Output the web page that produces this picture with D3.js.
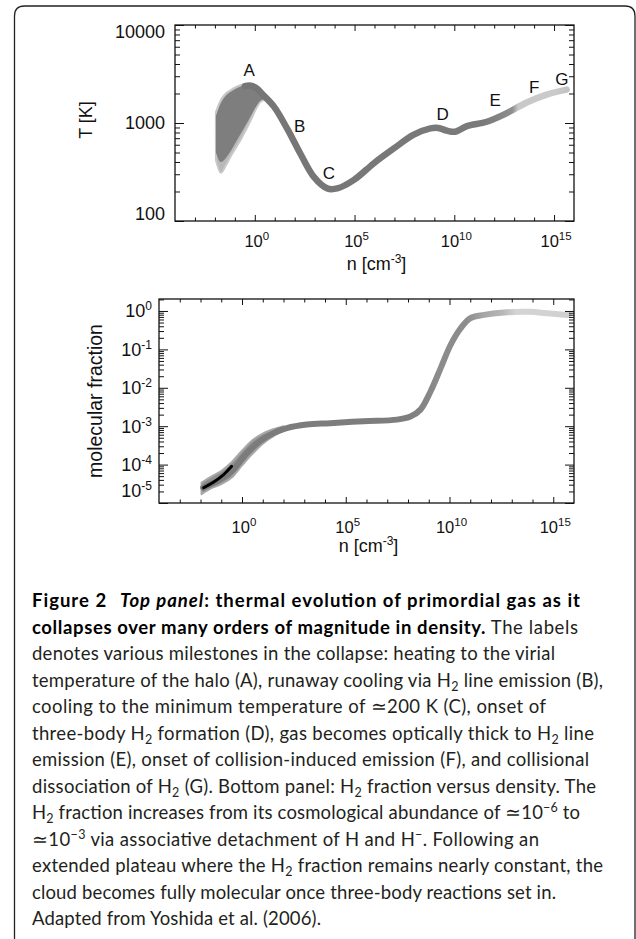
<!DOCTYPE html>
<html><head><meta charset="utf-8">
<script src="https://cdn.jsdelivr.net/npm/d3@7"></script>
<style>body{margin:0;background:#fff}svg{display:block}</style>
</head><body>
<svg id="c" width="636" height="939"></svg>
<script>
// ---------------- DATA ----------------
// Top panel: main thermal track (density n [cm^-3] as log10, temperature K)
const tempLogN = [-0.5, -0.2, 0.1, 0.4, 0.97, 1.63, 2.3, 2.97, 3.63, 4.13, 4.97, 5.97, 6.97, 7.97, 8.8, 9.2, 9.63, 10.05, 10.63, 11.63, 12.63, 13.63, 14.63, 15.63];
const tempK    = [2380, 2400, 2250, 1950, 1460, 870, 480, 280, 215, 215, 263, 389, 550, 759, 880, 890, 835, 815, 930, 1030, 1260, 1620, 1950, 2190];
// Top panel: spread of many trajectories at low density (outer and inner envelopes)
const fanLogN      = [-1.95, -1.7, -1.45, -1.2, -0.95, -0.7, -0.45, -0.2, 0.05, 0.3, 0.55];
const fanOuterHigh = [1290, 1720, 2000, 2170, 2320, 2440, 2510, 2450, 2320, 2140, 1900];
const fanOuterLow  = [420, 310, 370, 460, 560, 680, 850, 1070, 1380, 1660, 1740];
const fanInnerHigh = [1180, 1600, 1900, 2080, 2230, 2360, 2430, 2400, 2270, 2100, 1880];
const fanInnerLow  = [500, 400, 440, 520, 640, 780, 960, 1180, 1460, 1700, 1760];
// Milestone labels
const milestoneNames = ["A", "B", "C", "D", "E", "F", "G"];
const milestoneLogN  = [-0.28, 2.25, 3.72, 9.42, 12.05, 14.0, 15.39];
const milestoneK     = [3470, 933, 309, 1230, 1700, 2340, 2820];

// Bottom panel: molecular fraction track
const fracLogN = [-1.87, -1.06, -0.42, 0.23, 0.87, 1.51, 2.16, 3.12, 4.25, 5.86, 7.47, 8.12, 8.6, 9.08, 9.57, 10.05, 10.53, 11.01, 11.66, 12.79, 13.9, 14.7, 15.7];
const fracVal  = [2.5e-5, 4.1e-5, 7.4e-5, 2.0e-4, 4.1e-4, 6.6e-4, 8.9e-4, 1.1e-3, 1.2e-3, 1.35e-3, 1.48e-3, 1.78e-3, 2.7e-3, 7.9e-3, 3.2e-2, 0.13, 0.35, 0.65, 0.79, 0.93, 0.95, 0.87, 0.79];
// Bottom panel: low-density spread envelope and dark core
const spreadLogN = [-1.95, -1.5, -1.0, -0.5, 0.0, 0.5, 1.0, 1.5, 2.0];
const spreadHigh = [3.4e-5, 4.8e-5, 6.8e-5, 1.15e-4, 2.3e-4, 4.3e-4, 6.4e-4, 8.3e-4, 1.0e-3];
const spreadLow  = [1.7e-5, 2.4e-5, 3.1e-5, 4.6e-5, 9.5e-5, 1.9e-4, 3.5e-4, 5.4e-4, 7.4e-4];
const coreLogN = [-1.85, -1.4, -0.9, -0.5];
const coreVal  = [2.5e-5, 3.4e-5, 5.4e-5, 9.0e-5];

// Ticks
const xMajorExp = [0, 5, 10, 15];
const xMinorExp = d3.range(-3, 16);
const tempMajor = [100, 1000, 10000];
const tempMajorLabels = ["100", "1000", "10000"];
const fracMajorExp = [0, -1, -2, -3, -4, -5];

// Caption
const captionLines = [
 [["b","Figure 2"],["bi","Top panel"],["b",": thermal evolution of primordial gas as it"]],
 [["b","collapses over many orders of magnitude in density."],["r"," The labels"]],
 [["r","denotes various milestones in the collapse: heating to the virial"]],
 [["r","temperature of the halo (A), runaway cooling via H"],["sub","2"],["r"," line emission (B),"]],
 [["r","cooling to the minimum temperature of \u2243200 K (C), onset of"]],
 [["r","three-body H"],["sub","2"],["r"," formation (D), gas becomes optically thick to H"],["sub","2"],["r"," line"]],
 [["r","emission (E), onset of collision-induced emission (F), and collisional"]],
 [["r","dissociation of H"],["sub","2"],["r"," (G). Bottom panel: H"],["sub","2"],["r"," fraction versus density. The"]],
 [["r","H"],["sub","2"],["r"," fraction increases from its cosmological abundance of \u224310"],["sup","\u22126"],["r"," to"]],
 [["r","\u224310"],["sup","\u22123"],["r"," via associative detachment of H and H"],["sup","\u2212"],["r",". Following an"]],
 [["r","extended plateau where the H"],["sub","2"],["r"," fraction remains nearly constant, the"]],
 [["r","cloud becomes fully molecular once three-body reactions set in."]],
 [["r","Adapted from Yoshida et al. (2006)."]]
];
// right end of each caption line in the reference
const captionLineEnd = [580, 578, 555, 603, 546, 594, 589, 596, 580, 539, 603, 556, 321];

// ---------------- DRAW ----------------
const svg = d3.select("#c");
const FONT = "'Liberation Sans', Arial, Helvetica, sans-serif";
const CAPFONT = "Lato, 'Open Sans', sans-serif";

svg.append("path")
  .attr("d", "M14.5,939 L14.5,16 Q14.5,6 24.5,6 L625,6 Q635,6 635,16 L635,939")
  .attr("fill", "none").attr("stroke", "#222").attr("stroke-width", 1.3);

const defs = svg.append("defs");

function panel(opt) {
  const g = svg.append("g");
  const x = d3.scaleLog().domain([1e-4, 1e16]).range([opt.left, opt.right]);
  const y = d3.scaleLog().domain(opt.ydom).range([opt.bottom, opt.top]);
  const clipId = opt.id + "clip";
  defs.append("clipPath").attr("id", clipId).append("rect")
    .attr("x", opt.left).attr("y", opt.top).attr("width", opt.right - opt.left).attr("height", opt.bottom - opt.top);
  const plot = g.append("g").attr("clip-path", `url(#${clipId})`);

  const xMaj = xMajorExp.map(e => Math.pow(10, e));
  const xMin = xMinorExp.filter(e => !xMajorExp.includes(e)).map(e => Math.pow(10, e));
  const tk = (axis, sel, vals, len) => {
    const a = g.append("g").attr("transform", sel)
      .call(axis.tickValues(vals).tickSizeInner(-len).tickSizeOuter(0).tickFormat(""));
    a.select(".domain").remove();
    a.selectAll("line").attr("stroke", "#111").attr("stroke-width", 1);
  };
  tk(d3.axisBottom(x), `translate(0,${opt.bottom})`, xMaj, 6);
  tk(d3.axisBottom(x), `translate(0,${opt.bottom})`, xMin, 3.5);
  tk(d3.axisTop(x), `translate(0,${opt.top})`, xMaj, 6);
  tk(d3.axisTop(x), `translate(0,${opt.top})`, xMin, 3.5);
  tk(d3.axisLeft(y), `translate(${opt.left},0)`, opt.yMajor, 9);
  tk(d3.axisLeft(y), `translate(${opt.left},0)`, opt.yMinor, 5);
  tk(d3.axisRight(y), `translate(${opt.right},0)`, opt.yMajor, 9);
  tk(d3.axisRight(y), `translate(${opt.right},0)`, opt.yMinor, 5);

  g.append("rect").attr("x", opt.left).attr("y", opt.top)
    .attr("width", opt.right - opt.left).attr("height", opt.bottom - opt.top)
    .attr("fill", "none").attr("stroke", "#111").attr("stroke-width", 1.3);

  xMajorExp.forEach(e => {
    const t = g.append("text").attr("x", x(Math.pow(10, e)) + 2).attr("y", opt.xLabBase)
      .attr("text-anchor", "middle").attr("font-family", FONT).attr("font-size", 16.5).attr("fill", "#111");
    t.append("tspan").text("10");
    t.append("tspan").attr("dy", -7).attr("font-size", 11.5).text(String(e));
  });
  const xt = g.append("text").attr("x", (opt.left + opt.right) / 2 + 2).attr("y", opt.xTitleBase)
    .attr("text-anchor", "middle").attr("font-family", FONT).attr("font-size", 18).attr("fill", "#111");
  xt.append("tspan").text("n [cm");
  xt.append("tspan").attr("dy", -7).attr("font-size", 12).text("-3");
  xt.append("tspan").attr("dy", 7).text("]");
  g.append("text").attr("transform", `translate(${opt.yTitleX},${opt.yTitleY}) rotate(-90)`)
    .attr("text-anchor", "middle").attr("font-family", FONT).attr("font-size", opt.yTitleSize).attr("fill", "#111")
    .text(opt.yTitle);
  return {g, plot, x, y};
}

// ---- Top panel ----
const P1 = panel({id: "p1", left: 175, right: 574, top: 25, bottom: 221, ydom: [100, 10000],
  yMajor: tempMajor,
  yMinor: [2,3,4,5,6,7,8,9].map(v => v * 100).concat([2,3,4,5,6,7,8,9].map(v => v * 1000)),
  xLabBase: 247, xTitleBase: 270, yTitle: "T [K]", yTitleX: 92, yTitleY: 120, yTitleSize: 18});
tempMajor.forEach((v, i) => {
  const shift = i === 0 ? -7 : (i === tempMajor.length - 1 ? 7 : 0);
  P1.g.append("text").attr("x", 165).attr("y", P1.y(v) + 6.4 + shift)
    .attr("text-anchor", "end").attr("font-family", FONT).attr("font-size", 18).attr("fill", "#111")
    .text(tempMajorLabels[i]);
});

const areaOuter = d3.area().curve(d3.curveMonotoneX)
  .x((d, i) => P1.x(Math.pow(10, fanLogN[i])))
  .y0((d, i) => P1.y(fanOuterLow[i])).y1((d, i) => P1.y(fanOuterHigh[i]));
const areaInner = d3.area().curve(d3.curveMonotoneX)
  .x((d, i) => P1.x(Math.pow(10, fanLogN[i])))
  .y0((d, i) => P1.y(fanInnerLow[i])).y1((d, i) => P1.y(fanInnerHigh[i]));
P1.plot.append("path").attr("d", areaOuter(fanLogN)).attr("fill", "#b8b8b8")
  .attr("stroke", "#c8c8c8").attr("stroke-width", 2).attr("stroke-linejoin", "round");
P1.plot.append("path").attr("d", areaInner(fanLogN)).attr("fill", "#7e7e7e");

const g1 = defs.append("linearGradient").attr("id", "gt").attr("gradientUnits", "userSpaceOnUse")
  .attr("x1", P1.x(1e-4)).attr("x2", P1.x(1e16)).attr("y1", 0).attr("y2", 0);
const xf1 = v => (P1.x(Math.pow(10, v)) - P1.x(1e-4)) / (P1.x(1e16) - P1.x(1e-4));
[[-4, "#747474"], [11.5, "#7a7a7a"], [12.9, "#8e8e8e"], [13.2, "#c8c8c8"], [15.0, "#cacaca"], [16, "#c0c0c0"]]
  .forEach(s => g1.append("stop").attr("offset", xf1(s[0])).attr("stop-color", s[1]));

const lineT = d3.line().curve(d3.curveCatmullRom.alpha(0.5))
  .x((d, i) => P1.x(Math.pow(10, tempLogN[i]))).y((d, i) => P1.y(tempK[i]));
P1.plot.append("path").attr("d", lineT(tempLogN)).attr("fill", "none")
  .attr("stroke", "url(#gt)").attr("stroke-width", 6.5).attr("stroke-linecap", "round").attr("stroke-linejoin", "round");

milestoneNames.forEach((n, i) => {
  P1.g.append("text").attr("x", P1.x(Math.pow(10, milestoneLogN[i]))).attr("y", P1.y(milestoneK[i]) + 6)
    .attr("text-anchor", "middle").attr("font-family", FONT).attr("font-size", 17).attr("fill", "#111").text(n);
});

// ---- Bottom panel ----
const fracMinor = [];
for (let e = -5; e < 1; e++) for (let m = 2; m <= 9; m++) { const v = m * Math.pow(10, e); if (v <= 2.05) fracMinor.push(v); }
const P2 = panel({id: "p2", left: 159, right: 574, top: 299, bottom: 503, ydom: [1e-5, 2.05],
  yMajor: fracMajorExp.map(e => Math.pow(10, e)), yMinor: fracMinor,
  xLabBase: 533, xTitleBase: 552, yTitle: "molecular fraction", yTitleX: 102, yTitleY: 401, yTitleSize: 19.5});
fracMajorExp.forEach(e => {
  const shift = e === -5 ? -12 : 0;
  const t = P2.g.append("text").attr("x", 152).attr("y", P2.y(Math.pow(10, e)) + 6.4 + shift)
    .attr("text-anchor", "end").attr("font-family", FONT).attr("font-size", 18).attr("fill", "#111");
  t.append("tspan").text("10");
  t.append("tspan").attr("dy", -7).attr("font-size", 12).text(String(e));
});

const g2 = defs.append("linearGradient").attr("id", "gb").attr("gradientUnits", "userSpaceOnUse")
  .attr("x1", P2.x(1e-4)).attr("x2", P2.x(1e16)).attr("y1", 0).attr("y2", 0);
const xf2 = v => (P2.x(Math.pow(10, v)) - P2.x(1e-4)) / (P2.x(1e16) - P2.x(1e-4));
[[-4, "#7a7a7a"], [8, "#7e7e7e"], [9.5, "#8c8c8c"], [10.8, "#8c8c8c"], [11.6, "#a4a4a4"], [12.6, "#b8b8b8"], [13.2, "#d4d4d4"], [16, "#d0d0d0"]]
  .forEach(s => g2.append("stop").attr("offset", xf2(s[0])).attr("stop-color", s[1]));

const areaS = d3.area().curve(d3.curveMonotoneX)
  .x((d, i) => P2.x(Math.pow(10, spreadLogN[i])))
  .y0((d, i) => P2.y(spreadLow[i])).y1((d, i) => P2.y(spreadHigh[i]));
P2.plot.append("path").attr("d", areaS(spreadLogN)).attr("fill", "#8e8e8e")
  .attr("stroke", "#a8a8a8").attr("stroke-width", 2).attr("stroke-linejoin", "round");
const lineF = d3.line().curve(d3.curveCatmullRom.alpha(0.5))
  .x((d, i) => P2.x(Math.pow(10, fracLogN[i]))).y((d, i) => P2.y(fracVal[i]));
P2.plot.append("path").attr("d", lineF(fracLogN)).attr("fill", "none")
  .attr("stroke", "url(#gb)").attr("stroke-width", 6).attr("stroke-linecap", "round").attr("stroke-linejoin", "round");
const lineC = d3.line().curve(d3.curveCatmullRom.alpha(0.5))
  .x((d, i) => P2.x(Math.pow(10, coreLogN[i]))).y((d, i) => P2.y(coreVal[i]));
P2.plot.append("path").attr("d", lineC(coreLogN)).attr("fill", "none")
  .attr("stroke", "#000").attr("stroke-width", 3).attr("stroke-linecap", "round");

// ---- Caption ----
captionLines.forEach((segs, i) => {
  const t = svg.append("text").attr("x", 32).attr("y", 607 + i * 26.5)
    .attr("font-family", CAPFONT).attr("font-size", 18.5).attr("fill", "#231f20")
    .attr("textLength", captionLineEnd[i] - 32).attr("lengthAdjust", "spacing");
  let shifted = 0;
  segs.forEach(([s, txt]) => {
    const sp = t.append("tspan").text(txt);
    if (s === "b") sp.attr("font-weight", "bold").attr("fill", "#000");
    if (s === "bi") sp.attr("font-weight", "bold").attr("font-style", "italic").attr("fill", "#000").attr("dx", 13);
    if (s === "sub" || s === "sup") {
      const d = s === "sub" ? 4 : -7;
      sp.attr("font-size", 12.5).attr("dy", d - shifted); shifted = d;
    } else if (shifted) { sp.attr("dy", -shifted); shifted = 0; }
  });
});
</script>
</body></html>
